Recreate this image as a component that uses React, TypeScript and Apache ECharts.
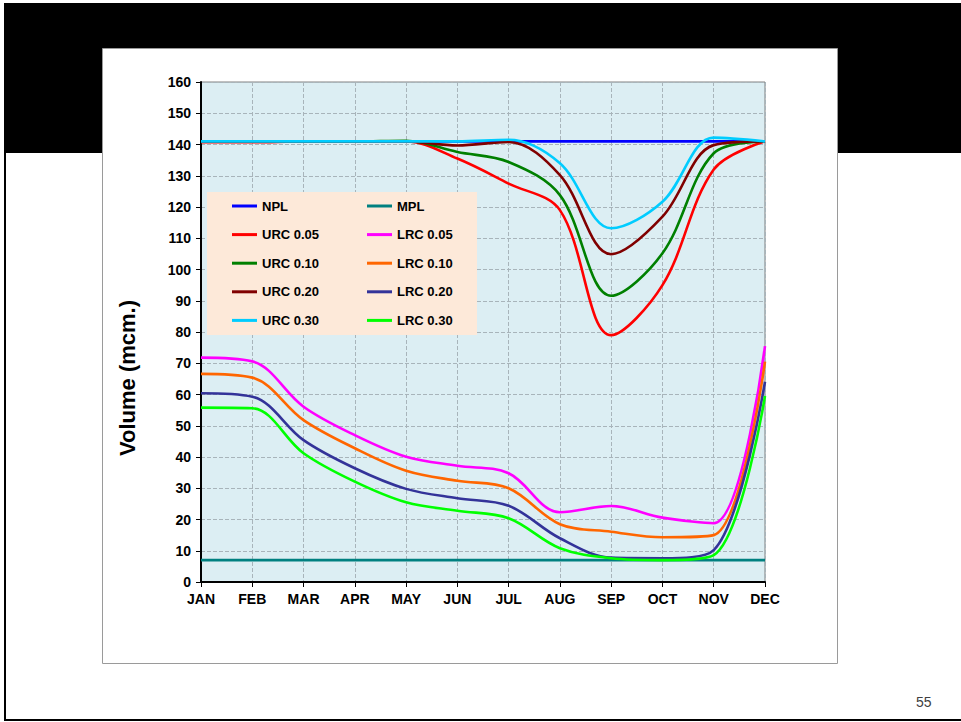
import React, { useEffect, useRef } from "react";
import * as echarts from "echarts";

const months = ["JAN", "FEB", "MAR", "APR", "MAY", "JUN", "JUL", "AUG", "SEP", "OCT", "NOV", "DEC"];

const npl = [141, 141, 141, 141, 141, 141, 141, 141, 141, 141, 141, 141];
const mpl = [7, 7, 7, 7, 7, 7, 7, 7, 7, 7, 7, 7];
const urc05 = [140.7, 140.7, 141, 141, 141, 135.5, 127.5, 119, 79, 95, 132, 141];
const urc10 = [141, 141, 141, 141, 141.2, 137.6, 134.4, 123.8, 91.6, 105.2, 137.2, 141];
const urc20 = [141, 141, 141, 141, 141, 139.7, 140.8, 130.2, 104.9, 116.9, 139.8, 141];
const urc30 = [141, 141, 141, 141, 141, 141, 141.5, 134, 113.2, 121.7, 142.2, 141];
const lrc05 = [71.8, 70.6, 56.1, 47, 40.1, 37.2, 34.8, 22.3, 24.3, 20.6, 18.8, 75.5];
const lrc10 = [66.6, 65.4, 51.8, 42.8, 35.6, 32.4, 30, 18.5, 16.1, 14.3, 15, 70.5];
const lrc20 = [60.4, 59.3, 45.4, 36.4, 29.8, 26.8, 24.4, 14, 7.8, 7.6, 10.2, 64.1];
const lrc30 = [55.8, 55.6, 41.2, 32.1, 25.5, 22.8, 20.4, 10.8, 7.6, 7, 8.6, 59.5];

const seriesDefs = [
  { name: "NPL", data: npl, color: "#0000FF" },
  { name: "MPL", data: mpl, color: "#008080" },
  { name: "URC 0.05", data: urc05, color: "#FF0000" },
  { name: "LRC 0.05", data: lrc05, color: "#FF00FF" },
  { name: "URC 0.10", data: urc10, color: "#008000" },
  { name: "LRC 0.10", data: lrc10, color: "#FF6600" },
  { name: "URC 0.20", data: urc20, color: "#800000" },
  { name: "LRC 0.20", data: lrc20, color: "#333399" },
  { name: "URC 0.30", data: urc30, color: "#00CCFF" },
  { name: "LRC 0.30", data: lrc30, color: "#00FF00" },
];

const legendLeft = ["NPL", "URC 0.05", "URC 0.10", "URC 0.20", "URC 0.30"];
const legendRight = ["MPL", "LRC 0.05", "LRC 0.10", "LRC 0.20", "LRC 0.30"];
const yTicks = { min: 0, max: 160, interval: 10 };
const yTitle = "Volume (mcm.)";
const pageNumber = "55";

const FONT = "'Liberation Sans', Arial, sans-serif";

export default function App() {
  const ref = useRef<HTMLDivElement>(null);

  useEffect(() => {
    if (!ref.current) return;
    const chart = echarts.init(ref.current, undefined, { renderer: "svg" });
    const legendCommon = {
      orient: "vertical" as const,
      top: 198,
      padding: 0,
      itemWidth: 25,
      itemHeight: 3,
      itemGap: 12.6,
      icon: "rect",
      selectedMode: false,
      textStyle: { fontFamily: FONT, fontWeight: "bold", fontSize: 13, color: "#000", lineHeight: 16 },
    };
    chart.setOption({
      animation: false,
      backgroundColor: "#FFFFFF",
      graphic: [
        { type: "rect", z: -10, shape: { x: 4, y: 3, width: 957, height: 150 }, style: { fill: "#000000" } },
        { type: "line", z: -10, shape: { x1: 5, y1: 150, x2: 5, y2: 720 }, style: { stroke: "#000", lineWidth: 2 } },
        { type: "line", z: -10, shape: { x1: 4, y1: 720, x2: 961, y2: 720 }, style: { stroke: "#000", lineWidth: 2 } },
        {
          type: "rect",
          z: -9,
          shape: { x: 102.5, y: 48.5, width: 735, height: 615 },
          style: { fill: "#FFFFFF", stroke: "#9A9A9A", lineWidth: 1 },
        },
        {
          type: "rect",
          z: 3,
          shape: { x: 207, y: 192, width: 270, height: 143 },
          style: { fill: "#FDE9D9" },
        },
        {
          type: "text",
          z: 5,
          x: 127,
          y: 378,
          rotation: Math.PI / 2,
          style: {
            text: yTitle,
            fontFamily: FONT,
            fontWeight: "bold",
            fontSize: 22,
            fill: "#000",
            align: "center",
            verticalAlign: "middle",
          },
        },
        {
          type: "text",
          z: 5,
          x: 916,
          y: 695,
          style: { text: pageNumber, fontFamily: FONT, fontSize: 14, fill: "#404040" },
        },
      ],
      grid: {
        left: 201,
        top: 82,
        width: 564,
        height: 500,
        show: true,
        backgroundColor: "#DCEEF3",
        borderColor: "#808080",
        borderWidth: 1,
      },
      legend: [
        { ...legendCommon, left: 232, data: legendLeft },
        { ...legendCommon, left: 367, data: legendRight },
      ],
      xAxis: {
        type: "category",
        data: months,
        boundaryGap: false,
        axisLine: { lineStyle: { color: "#000", width: 2 } },
        axisTick: { show: true, length: 5, lineStyle: { color: "#000" }, interval: 0 },
        axisLabel: { fontFamily: FONT, fontWeight: "bold", fontSize: 14, color: "#000", margin: 10, interval: 0 },
        splitLine: { show: true, interval: 0, lineStyle: { color: "#A8B4BA", type: "dashed", width: 1 } },
      },
      yAxis: {
        type: "value",
        min: yTicks.min,
        max: yTicks.max,
        interval: yTicks.interval,
        axisLine: { show: true, lineStyle: { color: "#000", width: 2 } },
        axisTick: { show: true, length: 5, lineStyle: { color: "#000" } },
        axisLabel: { fontFamily: FONT, fontWeight: "bold", fontSize: 14, color: "#000", margin: 10 },
        splitLine: { show: true, lineStyle: { color: "#A8B4BA", type: "dashed", width: 1 } },
      },
      series: seriesDefs.map((s) => ({
        name: s.name,
        type: "line",
        data: s.data,
        smooth: 0.35,
        symbol: "none",
        color: s.color,
        lineStyle: { color: s.color, width: 2.6 },
        z: 2,
      })),
    });
    return () => chart.dispose();
  }, []);

  return (
    <div
      ref={ref}
      style={{ position: "absolute", left: 0, top: 0, width: 961, height: 722 }}
    />
  );
}
